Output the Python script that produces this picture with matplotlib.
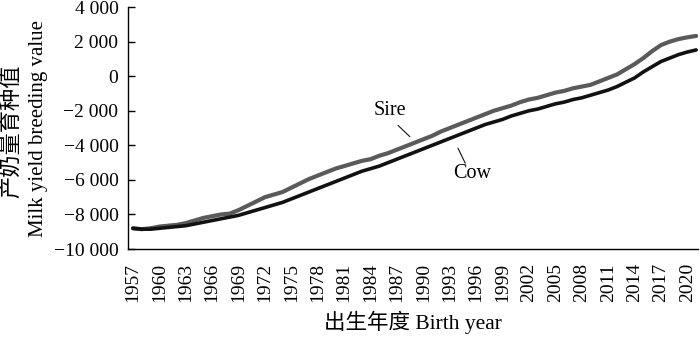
"""Milk yield breeding value trend of sires and cows by birth year."""

import matplotlib

matplotlib.use("Agg")

import matplotlib.pyplot as plt
import numpy as np
from matplotlib.ticker import FuncFormatter, MultipleLocator

FONT = ["Liberation Serif", "Noto Sans CJK SC"]

years = np.arange(1957, 2022)
sire = [
    -8800, -8850, -8800, -8700, -8650, -8600, -8500, -8350, -8200, -8100,
    -8000, -7950, -7750, -7500, -7250, -7000, -6850, -6700, -6450, -6200,
    -5950, -5750, -5550, -5350, -5200, -5050, -4900, -4800, -4600, -4450,
    -4250, -4050, -3850, -3650, -3450, -3200, -3000, -2800, -2600, -2400,
    -2200, -2000, -1850, -1700, -1500, -1350, -1250, -1100, -950, -850,
    -700, -600, -500, -300, -100, 100, 400, 700, 1050, 1450,
    1800, 2000, 2150, 2250, 2330,
]
cow = [
    -8800, -8850, -8850, -8800, -8750, -8700, -8650, -8550, -8450, -8350,
    -8250, -8150, -8050, -7900, -7750, -7600, -7450, -7300, -7100, -6900,
    -6700, -6500, -6300, -6100, -5900, -5700, -5500, -5350, -5200, -5000,
    -4800, -4600, -4400, -4200, -4000, -3800, -3600, -3400, -3200, -3000,
    -2800, -2650, -2500, -2300, -2150, -2000, -1900, -1750, -1600, -1500,
    -1350, -1250, -1100, -950, -800, -600, -350, -100, 250, 550,
    850, 1050, 1250, 1400, 1520,
]
year_ticks = np.arange(1957, 2021, 3)


def thousands(v, _pos):
    s = f"{abs(int(v)):,}".replace(",", " ")
    return ("\u2212" + s) if v < 0 else s


plt.rcParams["font.family"] = FONT

fig = plt.figure(figsize=(7.0, 3.37), dpi=100)
ax = fig.add_axes([0.183, 0.261, 0.814, 0.718])

ax.plot(years, sire, color="#5a5a5a", lw=3.0, solid_capstyle="round")
ax.plot(years, cow, color="#111111", lw=2.6, solid_capstyle="round")

ax.set_xlim(1956.45, 2021.2)
ax.set_ylim(-10000, 4000)
ax.yaxis.set_major_locator(MultipleLocator(2000))
ax.yaxis.set_major_formatter(FuncFormatter(thousands))
ax.set_xticks(year_ticks)
ax.set_xticklabels([str(y) for y in year_ticks], rotation=90, va="top")

ax.spines[["top", "right"]].set_visible(False)
for side in ("left", "bottom"):
    ax.spines[side].set_linewidth(1.0)
ax.tick_params(axis="y", direction="in", length=5, width=1.0, pad=7, labelsize=14)
ax.tick_params(axis="x", length=0, pad=10, labelsize=14)

ax.set_xlabel("出生年度 Birth year", fontsize=15.5, labelpad=6)
ax.set_ylabel("Milk yield breeding value", fontsize=15, labelpad=4)
fig.text(0.018, 0.612, "产奶量育种值", fontsize=16, rotation=90,
         ha="center", va="center")

ax.annotate("", xy=(1988.7, -3610), xytext=(1986.9, -2740),
            arrowprops=dict(arrowstyle="-", lw=0.8, color="#111111"))
ax.text(1986.2, -1980, "Sire", fontsize=14.5, ha="center", va="center")
ax.annotate("", xy=(1993.8, -4020), xytext=(1994.9, -5180),
            arrowprops=dict(arrowstyle="-", lw=0.8, color="#111111"))
ax.text(1995.5, -5650, "Cow", fontsize=14.5, ha="center", va="center")

fig.savefig("out.png", dpi=100)
